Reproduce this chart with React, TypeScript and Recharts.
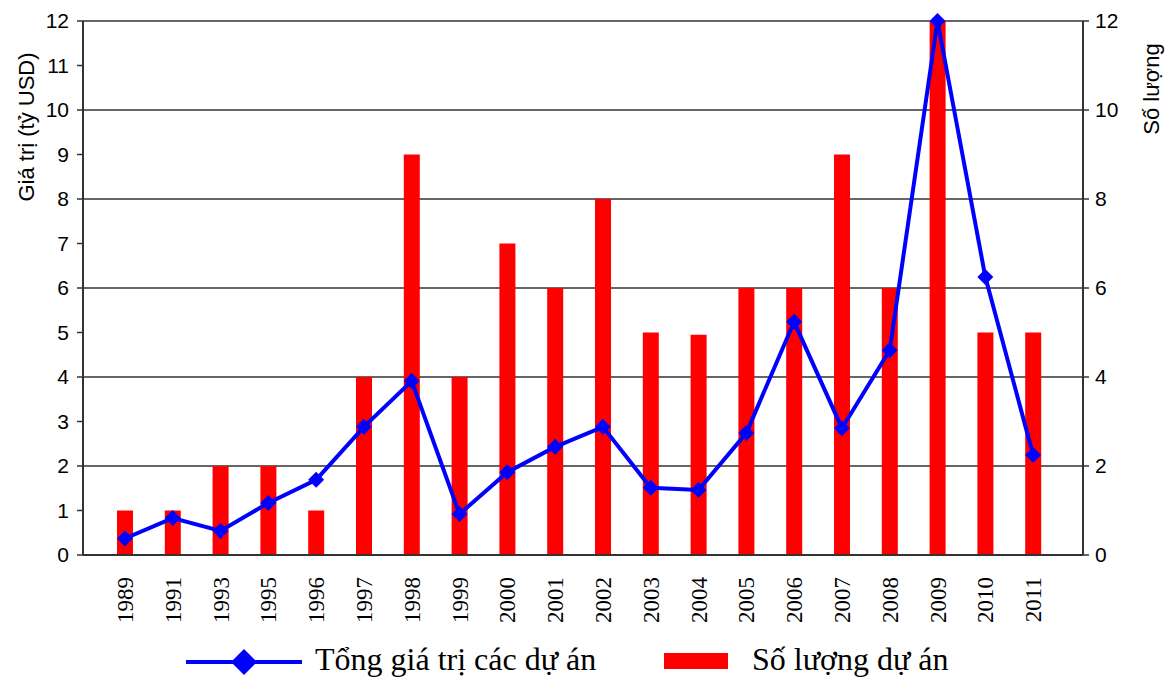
import {
  ComposedChart,
  Bar,
  Line,
  XAxis,
  YAxis,
  CartesianGrid,
  Legend,
} from 'recharts';

const years = [
  '1989', '1991', '1993', '1995', '1996', '1997', '1998', '1999', '2000', '2001',
  '2002', '2003', '2004', '2005', '2006', '2007', '2008', '2009', '2010', '2011',
];

// Tổng giá trị (tỷ USD), left axis
const totalValue = [
  0.37, 0.83, 0.54, 1.17, 1.69, 2.88, 3.91, 0.92, 1.86, 2.43,
  2.88, 1.51, 1.46, 2.74, 5.24, 2.85, 4.6, 12.0, 6.25, 2.25,
];

// Số lượng dự án, right axis
const projectCount = [1, 1, 2, 2, 1, 4, 9, 4, 7, 6, 8, 5, 4.95, 6, 6, 9, 6, 12, 5, 5];

const leftTicks = [0, 1, 2, 3, 4, 5, 6, 7, 8, 9, 10, 11, 12];
const rightTicks = [0, 2, 4, 6, 8, 10, 12];

const data = years.map((year, i) => ({
  year,
  value: totalValue[i],
  count: projectCount[i],
}));

const BLUE = '#0000ff';
const RED = '#ff0000';
const AXIS = '#333333';

function Diamond(props: any) {
  const { cx, cy } = props;
  if (cx == null || cy == null) return null;
  const r = 8;
  return (
    <polygon
      points={`${cx},${cy - r} ${cx + r},${cy} ${cx},${cy + r} ${cx - r},${cy}`}
      fill={BLUE}
    />
  );
}

function YearTick(props: any) {
  const { x, y, payload } = props;
  return (
    <text
      transform={`translate(${x + 8},${y + 14}) rotate(-90)`}
      textAnchor="end"
      fontFamily="'Liberation Serif', serif"
      fontSize={23}
      fill="#000"
    >
      {payload.value}
    </text>
  );
}

function LeftLabel(props: any) {
  const { viewBox } = props;
  const cx = viewBox.x + 26;
  const cy = viewBox.y + 106;
  return (
    <text
      transform={`translate(${cx},${cy}) rotate(-90)`}
      textAnchor="middle"
      dominantBaseline="central"
      fontFamily="'Liberation Sans', Arial, sans-serif"
      fontSize={22}
      fill="#000"
    >
      Giá trị (tỷ USD)
    </text>
  );
}

function RightLabel(props: any) {
  const { viewBox } = props;
  const cx = viewBox.x + 68;
  const cy = viewBox.y + 68;
  return (
    <text
      transform={`translate(${cx},${cy}) rotate(-90)`}
      textAnchor="middle"
      dominantBaseline="central"
      fontFamily="'Liberation Sans', Arial, sans-serif"
      fontSize={22}
      fill="#000"
    >
      Số lượng
    </text>
  );
}

function ChartLegend() {
  const textStyle: any = {
    position: 'absolute',
    top: 14,
    fontFamily: "'Liberation Serif', serif",
    fontSize: 32,
    color: '#000',
    lineHeight: '40px',
    whiteSpace: 'nowrap',
  };
  return (
    <div style={{ position: 'relative', height: 52, width: 1173 }}>
      <svg width={116} height={26} style={{ position: 'absolute', left: 186, top: 24 }}>
        <line x1={0} y1={13} x2={116} y2={13} stroke={BLUE} strokeWidth={4} />
        <polygon points="58,0 71,13 58,26 45,13" fill={BLUE} />
      </svg>
      <span style={{ ...textStyle, left: 315 }}>Tổng giá trị các dự án</span>
      <svg width={64} height={16} style={{ position: 'absolute', left: 664, top: 28 }}>
        <rect x={0} y={0} width={64} height={16} fill={RED} />
      </svg>
      <span style={{ ...textStyle, left: 752 }}>Số lượng dự án</span>
    </div>
  );
}

export default function App() {
  return (
    <div style={{ position: 'absolute', left: 0, top: 0, background: '#fff' }}>
      <ComposedChart
        width={1173}
        height={677}
        data={data}
        margin={{ top: 21, right: 0, left: 0, bottom: 0 }}
      >
        <CartesianGrid
          yAxisId="right"
          vertical={false}
          stroke={AXIS}
          strokeWidth={1.5}
        />
        <XAxis
          dataKey="year"
          interval={0}
          tickLine={false}
          axisLine={{ stroke: AXIS, strokeWidth: 2 }}
          tick={<YearTick />}
          height={70}
          padding={{ left: 18, right: 26 }}
        />
        <YAxis
          yAxisId="left"
          domain={[0, 12]}
          ticks={leftTicks}
          interval={0}
          width={83}
          tickSize={6}
          tickMargin={8}
          tickLine={{ stroke: AXIS, strokeWidth: 1.5 }}
          axisLine={{ stroke: AXIS, strokeWidth: 2 }}
          tick={{ fill: '#000', fontSize: 21, fontFamily: "'Liberation Sans', Arial, sans-serif" }}
          label={<LeftLabel />}
        />
        <YAxis
          yAxisId="right"
          orientation="right"
          domain={[0, 12]}
          ticks={rightTicks}
          interval={0}
          width={90}
          tickSize={6}
          tickMargin={6}
          tickLine={{ stroke: AXIS, strokeWidth: 1.5 }}
          axisLine={{ stroke: AXIS, strokeWidth: 2 }}
          tick={{ fill: '#000', fontSize: 21, fontFamily: "'Liberation Sans', Arial, sans-serif" }}
          label={<RightLabel />}
        />
        <Legend verticalAlign="bottom" height={52} content={<ChartLegend />} />
        <Bar
          yAxisId="right"
          dataKey="count"
          name="Số lượng dự án"
          fill={RED}
          barSize={16}
          isAnimationActive={false}
        />
        <Line
          yAxisId="left"
          type="linear"
          dataKey="value"
          name="Tổng giá trị các dự án"
          stroke={BLUE}
          strokeWidth={4}
          dot={<Diamond />}
          activeDot={false}
          isAnimationActive={false}
        />
      </ComposedChart>
    </div>
  );
}
